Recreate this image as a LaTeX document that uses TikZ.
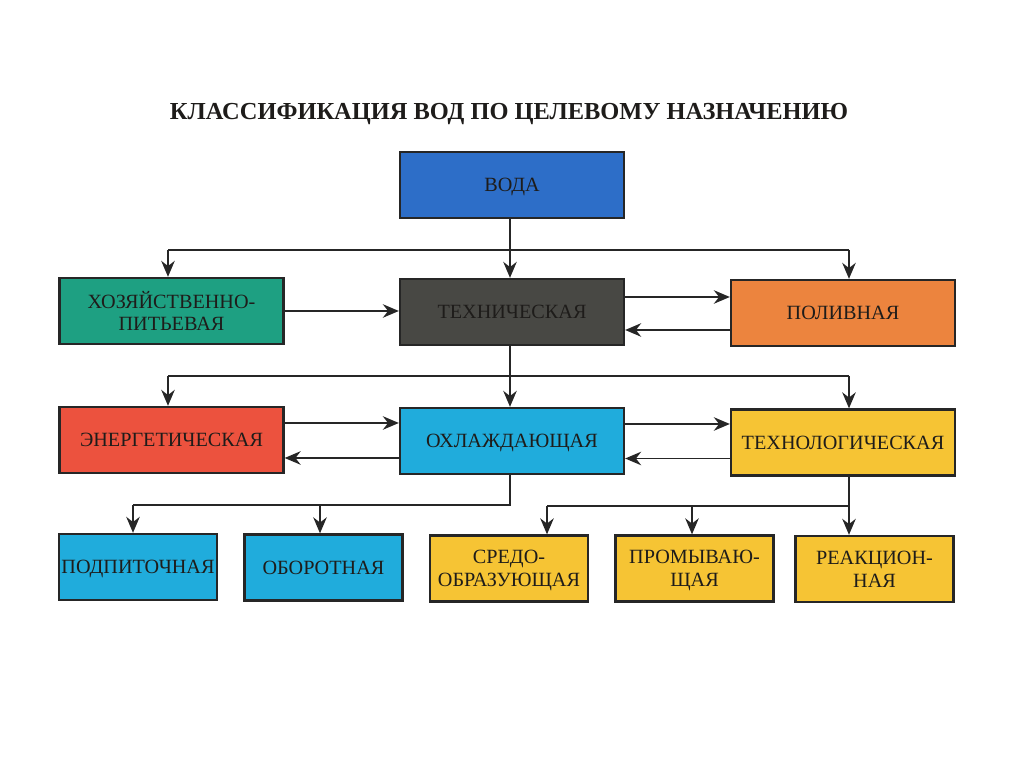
\documentclass[tikz,border=0pt]{standalone}
\usepackage{fontspec}
\setmainfont{Liberation Serif}
\usepackage{xcolor}
\usepackage{tikz}
\usetikzlibrary{arrows.meta,positioning,calc}

\definecolor{vodablue}{RGB}{45,110,200}
\definecolor{hozteal}{RGB}{30,160,130}
\definecolor{techgray}{RGB}{72,72,68}
\definecolor{polivorange}{RGB}{236,132,62}
\definecolor{energred}{RGB}{236,82,62}
\definecolor{ohlcyan}{RGB}{32,172,220}
\definecolor{techyellow}{RGB}{246,196,52}
\definecolor{txtdark}{RGB}{30,28,26}

\begin{document}
\begin{tikzpicture}[
    wbox/.style={rectangle, draw=black!85, line width=1.3pt, minimum width=4.48cm, minimum height=1.32cm,
        align=center, font=\fontsize{11.5}{13}\selectfont, text=txtdark, inner sep=1pt, text depth=0pt},
    sbox/.style={wbox, minimum width=3.16cm},
    arrow/.style={-{Stealth[length=3.2mm,width=2.7mm]}, line width=1.1pt, black!85},
    line/.style={line width=1.1pt, black!85}
]
\useasboundingbox (0,0) rectangle (20.48,-15.34);

% Title
\node[font=\bfseries\fontsize{13.9}{14}\selectfont, text=txtdark] (title) at (10.18,-2.28)
    {КЛАССИФИКАЦИЯ ВОД ПО ЦЕЛЕВОМУ НАЗНАЧЕНИЮ};

% Top level
\node[wbox, fill=vodablue] (voda) at (10.24,-3.70) {ВОДА};

% Second row
\node[wbox, fill=hozteal] (hoz) at (3.43,-6.22) {ХОЗЯЙСТВЕННО-\\ПИТЬЕВАЯ};
\node[wbox, fill=techgray] (tech) at (10.24,-6.24) {ТЕХНИЧЕСКАЯ};
\node[wbox, fill=polivorange] (poliv) at (16.86,-6.26) {ПОЛИВНАЯ};

% Third row
\node[wbox, fill=energred] (energ) at (3.43,-8.80) {ЭНЕРГЕТИЧЕСКАЯ};
\node[wbox, fill=ohlcyan] (ohl) at (10.24,-8.82) {ОХЛАЖДАЮЩАЯ};
\node[wbox, fill=techyellow] (technol) at (16.86,-8.85) {ТЕХНОЛОГИЧЕСКАЯ};

% Bottom row
\node[sbox, fill=ohlcyan] (podp) at (2.76,-11.34) {ПОДПИТОЧНАЯ};
\node[sbox, fill=ohlcyan] (oborot) at (6.47,-11.35) {ОБОРОТНАЯ};
\node[sbox, fill=techyellow] (sredo) at (10.18,-11.37) {СРЕДО-\\ОБРАЗУЮЩАЯ};
\node[sbox, fill=techyellow] (promyv) at (13.89,-11.37) {ПРОМЫВАЮ-\\ЩАЯ};
\node[sbox, fill=techyellow] (reakc) at (17.49,-11.38) {РЕАКЦИОН-\\НАЯ};

% Bus coordinates
\coordinate (busA) at (10.2,-5.0);
\coordinate (busB) at (10.2,-7.52);
\coordinate (busC) at (2.66,-10.1);
\coordinate (busD) at (10.94,-10.12);

% Voda -> second row
\draw[arrow] (voda.south -| busA) -- (tech.north -| busA);
\draw[line] ([xshift=-0.07cm]hoz.north |- busA) -- ([xshift=0.12cm]poliv.north |- busA);
\draw[arrow] ([xshift=-0.07cm]hoz.north |- busA) -- ([xshift=-0.07cm]hoz.north);
\draw[arrow] ([xshift=0.12cm]poliv.north |- busA) -- ([xshift=0.12cm]poliv.north);

% Second row links
\draw[arrow] (hoz.east) -- (hoz.east -| tech.west);
\draw[arrow] ([yshift=0.3cm]tech.east) -- ([yshift=0.3cm]tech.east -| poliv.west);
\draw[arrow] ([yshift=-0.34cm]poliv.west) -- ([yshift=-0.34cm]poliv.west -| tech.east);

% Tech -> third row
\draw[arrow] (tech.south -| busB) -- (ohl.north -| busB);
\draw[line] ([xshift=-0.07cm]energ.north |- busB) -- ([xshift=0.12cm]technol.north |- busB);
\draw[arrow] ([xshift=-0.07cm]energ.north |- busB) -- ([xshift=-0.07cm]energ.north);
\draw[arrow] ([xshift=0.12cm]technol.north |- busB) -- ([xshift=0.12cm]technol.north);

% Third row links
\draw[arrow] ([yshift=0.34cm]energ.east) -- ([yshift=0.34cm]energ.east -| ohl.west);
\draw[arrow] ([yshift=-0.34cm]ohl.west) -- ([yshift=-0.34cm]ohl.west -| energ.east);
\draw[arrow] ([yshift=0.34cm]ohl.east) -- ([yshift=0.34cm]ohl.east -| technol.west);
\draw[arrow] ([yshift=-0.32cm]technol.west) -- ([yshift=-0.32cm]technol.west -| ohl.east);

% Ohl -> bottom left
\draw[line] (ohl.south -| busA) |- (busC);
\draw[arrow] (busC) -- (busC |- podp.north);
\draw[arrow] ([xshift=-0.07cm]oborot.north |- busC) -- ([xshift=-0.07cm]oborot.north);

% Technol -> bottom right
\draw[arrow] ([xshift=0.12cm]technol.south) -- ([xshift=0.12cm]technol.south |- reakc.north);
\draw[line] ([xshift=0.12cm]technol.south |- busD) -- (busD);
\draw[arrow] (busD) -- (busD |- sredo.north);
\draw[arrow] ([xshift=-0.05cm]promyv.north |- busD) -- ([xshift=-0.05cm]promyv.north);

\end{tikzpicture}
\end{document}
